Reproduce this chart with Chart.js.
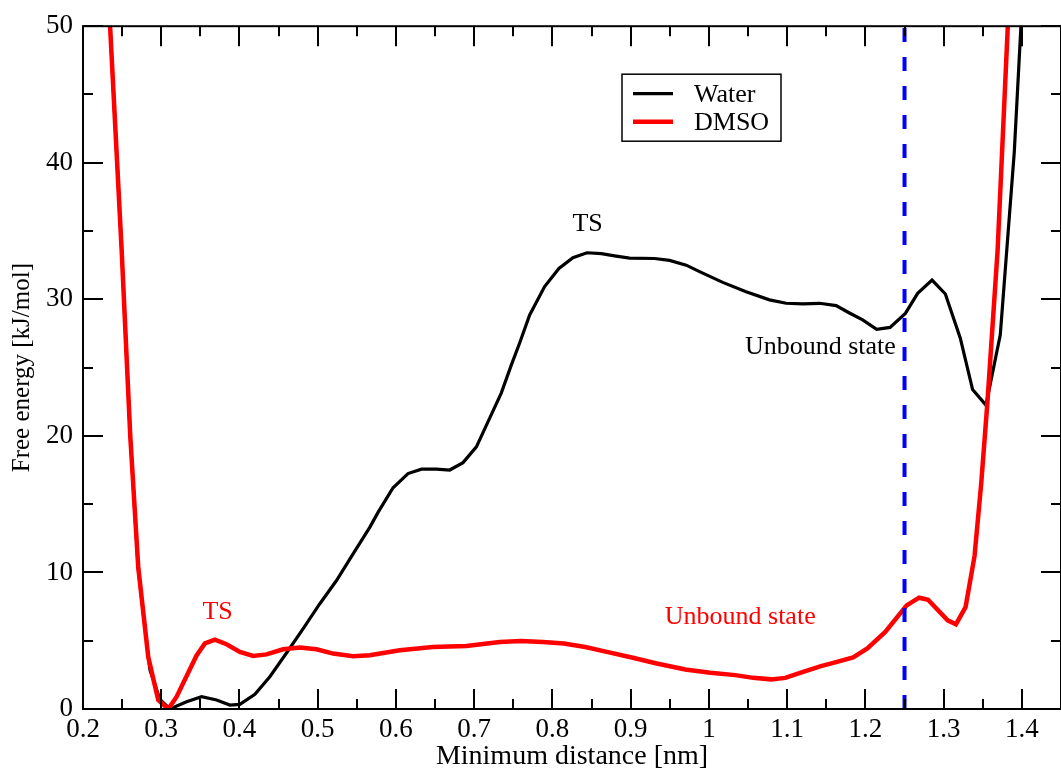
<!DOCTYPE html>
<html>
<head>
<meta charset="utf-8">
<script src="https://cdn.jsdelivr.net/npm/chart.js@4.4.0/dist/chart.umd.min.js"></script>
<style>
  html, body { margin: 0; padding: 0; background: #fff; }
  canvas { display: block; }
</style>
</head>
<body>
<canvas id="chart" width="1061" height="769"></canvas>
<script>
// free energy profiles (nm, kJ/mol)
const waterDistance = [0.231, 0.2494, 0.2604, 0.2706, 0.2856, 0.2983, 0.3111, 0.3324, 0.3516, 0.3708,
    0.3877, 0.4005, 0.4197, 0.4388, 0.4601, 0.4814, 0.5027, 0.524, 0.5452, 0.5665,
    0.5771, 0.5963, 0.6154, 0.6326, 0.6516, 0.6687, 0.6857, 0.7028, 0.7198, 0.7347,
    0.7475, 0.7581, 0.7709, 0.79, 0.8083, 0.8262, 0.8441, 0.8625, 0.8794, 0.8986,
    0.9305, 0.9497, 0.971, 0.988, 1.0177, 1.0475, 1.0774, 1.0987, 1.1199, 1.1413,
    1.1626, 1.1796, 1.1965, 1.2144, 1.2315, 1.2511, 1.2668, 1.2852, 1.3022, 1.3213,
    1.337, 1.3541, 1.3724, 1.3903, 1.3988, 1.401];
const waterEnergy = [54, 33.6, 20.0, 10.2, 2.84, 0.71, 0.0, 0.53, 0.9, 0.66,
    0.29, 0.34, 1.07, 2.36, 4.1, 5.89, 7.71, 9.41, 11.36, 13.3,
    14.4, 16.2, 17.24, 17.56, 17.56, 17.5, 18.04, 19.2, 21.3, 23.15,
    25.2, 26.8, 28.86, 30.93, 32.26, 33.05, 33.41, 33.34, 33.18, 33.02,
    32.99, 32.85, 32.5, 32.03, 31.24, 30.56, 29.96, 29.71, 29.66, 29.71,
    29.54, 29.0, 28.49, 27.81, 27.94, 28.97, 30.44, 31.41, 30.39, 27.15,
    23.39, 22.25, 27.4, 40.8, 50, 53];

const dmsoDistance = [0.231, 0.2494, 0.2604, 0.2706, 0.2834, 0.2962, 0.309, 0.3197, 0.345, 0.3558,
    0.3686, 0.3835, 0.4005, 0.4175, 0.4346, 0.4558, 0.4771, 0.4985, 0.5197, 0.5452,
    0.5665, 0.6049, 0.647, 0.69, 0.7326, 0.7599, 0.7874, 0.8147, 0.842, 0.8695,
    0.9014, 0.9333, 0.9699, 1.0018, 1.0337, 1.0566, 1.0793, 1.0976, 1.1204, 1.1432,
    1.1614, 1.1843, 1.2025, 1.2254, 1.2527, 1.2687, 1.2801, 1.3052, 1.3157, 1.328,
    1.3395, 1.348, 1.356, 1.369, 1.382, 1.384];
const dmsoEnergy = [54, 33.6, 20.0, 10.4, 3.8, 0.66, 0.0, 0.9, 3.9, 4.8,
    5.08, 4.74, 4.18, 3.89, 4.0, 4.37, 4.5, 4.37, 4.06, 3.87,
    3.94, 4.3, 4.54, 4.62, 4.9, 4.98, 4.91, 4.79, 4.54, 4.18,
    3.77, 3.33, 2.89, 2.65, 2.48, 2.28, 2.17, 2.28, 2.72, 3.14,
    3.41, 3.77, 4.43, 5.64, 7.59, 8.15, 8.0, 6.49, 6.2, 7.46,
    11.2, 16.5, 22.5, 33.6, 50, 53];

const cutoffDistance = [1.25, 1.25];
const cutoffEnergy = [0, 50];

const seriesNames = ['Water', 'DMSO'];

const xTickValues = [0.2, 0.3, 0.4, 0.5, 0.6, 0.7, 0.8, 0.9, 1.0, 1.1, 1.2, 1.3, 1.4];
const xTickLabels = ['0.2', '0.3', '0.4', '0.5', '0.6', '0.7', '0.8', '0.9', '1', '1.1', '1.2', '1.3', '1.4'];
const yTickValues = [0, 10, 20, 30, 40, 50];
const yTickLabels = ['0', '10', '20', '30', '40', '50'];

// text notes placed in data units
const noteTexts = ['TS', 'Unbound state', 'TS', 'Unbound state'];
const noteX = [0.845, 1.1425, 0.372, 1.04];
const noteY = [35.5, 26.5, 7.1, 6.7];
const noteColors = ['#000000', '#000000', '#ff0000', '#ff0000'];

const serif = "'Liberation Serif', 'Times New Roman', serif";

function points(xs, ys) {
    return xs.map((v, i) => ({ x: v, y: ys[i] }));
}

const frameAndTicks = {
    id: 'frameAndTicks',
    afterDatasetsDraw(chart) {
        const { ctx, chartArea: a, scales: { x, y } } = chart;
        ctx.save();
        ctx.strokeStyle = '#000';
        ctx.lineWidth = 2;
        ctx.beginPath();
        const xMinor = xTickValues.map(v => v + 0.05);
        const yMinor = yTickValues.slice(0, -1).map(v => v + 5);
        xTickValues.concat(xMinor).forEach((v, i) => {
            const p = Math.round(x.getPixelForValue(v));
            const len = i < xTickValues.length ? 20 : 10;
            ctx.moveTo(p, a.bottom); ctx.lineTo(p, a.bottom - len);
            ctx.moveTo(p, a.top); ctx.lineTo(p, a.top + len);
        });
        yTickValues.concat(yMinor).forEach((v, i) => {
            const p = Math.round(y.getPixelForValue(v));
            const len = i < yTickValues.length ? 20 : 10;
            ctx.moveTo(a.left, p); ctx.lineTo(a.left + len, p);
            ctx.moveTo(a.right, p); ctx.lineTo(a.right - len, p);
        });
        ctx.stroke();
        ctx.strokeRect(a.left, a.top, a.right - a.left, a.bottom - a.top);
        ctx.restore();
    }
};

const notes = {
    id: 'notes',
    afterDatasetsDraw(chart) {
        const { ctx, scales: { x, y } } = chart;
        ctx.save();
        ctx.font = '26px ' + serif;
        ctx.textAlign = 'center';
        ctx.textBaseline = 'middle';
        noteTexts.forEach((t, i) => {
            ctx.fillStyle = noteColors[i];
            ctx.fillText(t, x.getPixelForValue(noteX[i]), y.getPixelForValue(noteY[i]));
        });
        ctx.restore();
    }
};

const boxLegend = {
    id: 'boxLegend',
    afterDraw(chart) {
        const { ctx, chartArea: a } = chart;
        const left = a.left + 539, top = a.top + 48;
        ctx.save();
        ctx.fillStyle = '#fff';
        ctx.fillRect(left, top, 159, 67);
        ctx.strokeStyle = '#000';
        ctx.lineWidth = 1.5;
        ctx.strokeRect(left, top, 159, 67);
        ctx.font = '26px ' + serif;
        ctx.textBaseline = 'middle';
        ctx.textAlign = 'left';
        seriesNames.forEach((name, i) => {
            const ds = chart.data.datasets.find(d => d.label === name);
            const rowY = top + 19.5 + i * 28;
            ctx.strokeStyle = ds.borderColor;
            ctx.lineWidth = ds.borderWidth;
            ctx.beginPath();
            ctx.moveTo(left + 11, rowY);
            ctx.lineTo(left + 51, rowY);
            ctx.stroke();
            ctx.fillStyle = '#000';
            ctx.fillText(name, left + 72, rowY + 1);
        });
        ctx.restore();
    }
};

new Chart(document.getElementById('chart').getContext('2d'), {
    type: 'line',
    data: {
        datasets: [
            {
                label: 'cutoff',
                data: points(cutoffDistance, cutoffEnergy),
                borderColor: '#0000ff',
                borderWidth: 4,
                borderDash: [14, 15],
                pointRadius: 0,
                clip: 0
            },
            {
                label: seriesNames[1],
                data: points(dmsoDistance, dmsoEnergy),
                borderColor: '#ff0000',
                borderWidth: 4.5,
                pointRadius: 0,
                tension: 0,
                clip: 0
            },
            {
                label: seriesNames[0],
                data: points(waterDistance, waterEnergy),
                borderColor: '#000000',
                borderWidth: 3.2,
                pointRadius: 0,
                tension: 0,
                clip: 0
            }
        ]
    },
    options: {
        responsive: false,
        animation: false,
        layout: { padding: { top: 24, right: 0, left: 0, bottom: 0 } },
        plugins: {
            legend: { display: false },
            tooltip: { enabled: false }
        },
        scales: {
            x: {
                type: 'linear',
                min: 0.2,
                max: 1.45,
                afterFit: s => { s.height = 60; },
                afterBuildTicks: s => { s.ticks = xTickValues.map(v => ({ value: v })); },
                grid: { display: false, drawTicks: false },
                border: { display: false },
                ticks: {
                    padding: 5,
                    color: '#000',
                    font: { family: serif, size: 27 },
                    maxRotation: 0,
                    autoSkip: false,
                    callback: (v, i) => xTickLabels[i]
                },
                title: {
                    display: true,
                    text: 'Minimum distance [nm]',
                    color: '#000',
                    font: { family: serif, size: 28, lineHeight: 1 },
                    padding: { top: 0, bottom: -2 }
                }
            },
            y: {
                type: 'linear',
                min: 0,
                max: 50,
                afterFit: s => { s.width = 83; },
                afterBuildTicks: s => { s.ticks = yTickValues.map(v => ({ value: v })); },
                grid: { display: false, drawTicks: false },
                border: { display: false },
                ticks: {
                    padding: 10,
                    color: '#000',
                    font: { family: serif, size: 27 },
                    autoSkip: false,
                    callback: (v, i) => yTickLabels[i]
                },
                title: {
                    display: true,
                    text: 'Free energy [kJ/mol]',
                    color: '#000',
                    font: { family: serif, size: 25, lineHeight: 1 },
                    padding: { top: 10, bottom: 0 }
                }
            }
        }
    },
    plugins: [frameAndTicks, notes, boxLegend]
});
</script>
</body>
</html>
